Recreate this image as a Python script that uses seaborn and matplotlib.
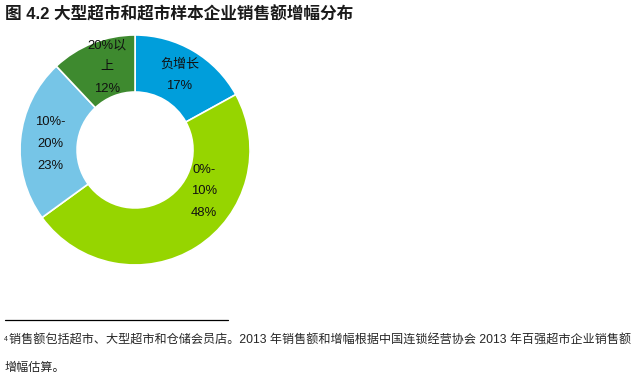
import numpy as np
import matplotlib
matplotlib.use("Agg")
import matplotlib.pyplot as plt
import seaborn as sns

# data
labels = ["负增长", "0%-\n10%", "10%-\n20%", "20%以\n上"]
shares = [17, 48, 23, 12]
colors = ["#009EDB", "#96D500", "#76C5E7", "#3E8A2F"]

title = "图 4.2 大型超市和超市样本企业销售额增幅分布"
note_1 = "销售额包括超市、大型超市和仓储会员店。2013 年销售额和增幅根据中国连锁经营协会 2013 年百强超市企业销售额"
note_2 = "增幅估算。"

sns.set_theme(style="white")
plt.rcParams["font.family"] = ["Liberation Sans", "Noto Sans CJK SC", "DejaVu Sans"]

fig = plt.figure(figsize=(6.42, 3.81), dpi=100)
ax = fig.add_axes([0.0312, 0.3045, 0.3583, 0.6037])

wedges, _ = ax.pie(
    shares, colors=colors, startangle=90, counterclock=False,
    wedgeprops=dict(width=0.496, edgecolor="white", linewidth=1.2),
)
ax.set_xlim(-1, 1)
ax.set_ylim(-1, 1)
ax.set_aspect("equal")

# labels inside each ring segment (radius, angle shift from wedge middle)
label_r = [0.756, 0.70, 0.74, 0.76]
label_shift = [0, 26.6, 1.5, -3]
for w, lab, val, r, s in zip(wedges, labels, shares, label_r, label_shift):
    ang = np.deg2rad((w.theta1 + w.theta2) / 2 + s)
    ax.text(r * np.cos(ang), r * np.sin(ang), f"{lab}\n{val}%",
            ha="center", va="center", fontsize=9.4, linespacing=2.1,
            color="#111111")

fig.text(0.008, 0.962, title, fontsize=12, fontweight="bold",
         ha="left", va="center", color="#1a1a1a")

# footnote rule and text
fig.add_artist(plt.Line2D([0.008, 0.355], [0.16, 0.16],
                          color="black", linewidth=0.9))
fig.text(0.006, 0.109, "4", fontsize=5, ha="left", va="center")
fig.text(0.014, 0.106, note_1, fontsize=8.7, ha="left", va="center")
fig.text(0.007, 0.033, note_2, fontsize=8.7, ha="left", va="center")

fig.savefig("out.png", dpi=100)
